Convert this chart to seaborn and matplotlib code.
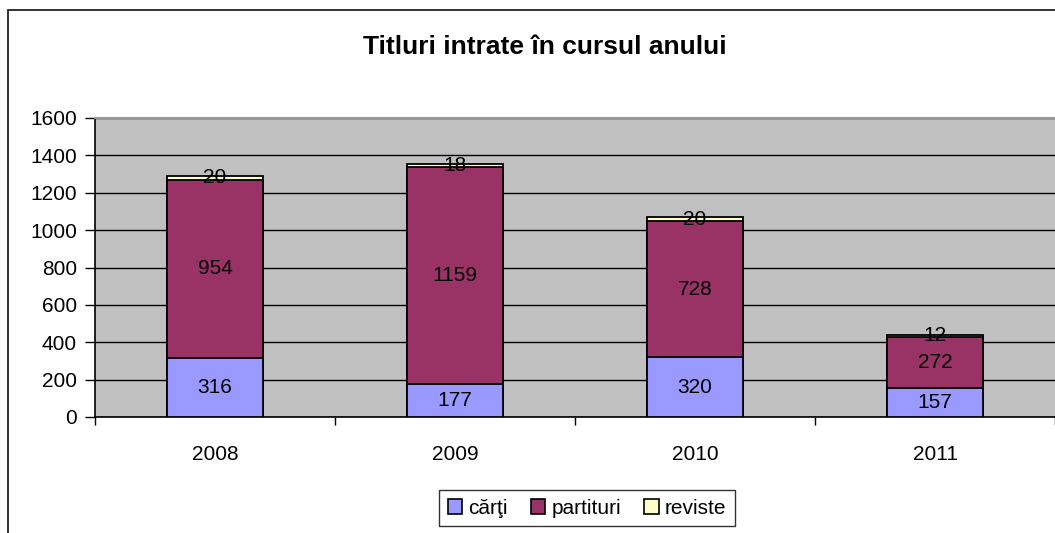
import matplotlib
matplotlib.use("Agg")
import matplotlib.pyplot as plt
import seaborn as sns
import pandas as pd
import numpy as np
from matplotlib.patches import Patch, Rectangle

years = ["2008", "2009", "2010", "2011"]
carti = [316, 177, 320, 157]
partituri = [954, 1159, 728, 272]
reviste = [20, 18, 20, 12]
series_names = ["cărţi", "partituri", "reviste"]
colors = ["#9999FF", "#993366", "#FFFFCC"]
title = "Titluri intrate în cursul anului"

sns.set_theme(style="white")
plt.rcParams["font.family"] = ["Liberation Sans", "DejaVu Sans"]
plt.rcParams["text.color"] = "black"
plt.rcParams["xtick.color"] = "black"
plt.rcParams["ytick.color"] = "black"
plt.rcParams["axes.labelcolor"] = "black"

df = pd.DataFrame({"an": years, "carti": carti, "partituri": partituri, "reviste": reviste})
df["c1"] = df["carti"]
df["c2"] = df["carti"] + df["partituri"]
df["c3"] = df["c2"] + df["reviste"]

fig = plt.figure(figsize=(10.55, 5.33), dpi=100)
fig.patch.set_facecolor("white")
ax = fig.add_axes([95/1055, (533-417)/533, (1055-95)/1055, (417-118)/533])
ax.set_facecolor("#C0C0C0")

for col, c in zip(["c3", "c2", "c1"], colors[::-1]):
    sns.barplot(data=df, x="an", y=col, color=c, saturation=1, width=0.4,
                edgecolor="black", linewidth=1.3, ax=ax, zorder=3)

ax.set_xlim(-0.5, 3.5)
ax.set_ylim(0, 1600)
ax.set_yticks(np.arange(0, 1601, 200))
ax.yaxis.grid(True, color="black", linewidth=1, zorder=1)
ax.set_axisbelow(True)
ax.set_xlabel("")
ax.set_ylabel("")

fs = 15
ax.tick_params(axis="y", which="major", left=True, length=7, width=1, color="black",
               labelsize=fs, pad=6, labelcolor="black")
ax.set_xticks(range(4))
ax.set_xticklabels(years, fontsize=fs, color="black")
ax.tick_params(axis="x", which="major", bottom=False, pad=14)
ax.set_xticks(np.arange(-0.5, 4.0, 1.0), minor=True)
ax.tick_params(axis="x", which="minor", bottom=True, length=6, width=1, color="black")

for s in ["left", "bottom"]:
    ax.spines[s].set_color("black")
    ax.spines[s].set_linewidth(1.2)
ax.spines["top"].set_color("#999999")
ax.spines["top"].set_linewidth(1.5)
ax.spines["right"].set_visible(False)

for i in range(len(years)):
    ax.text(i, carti[i] / 2, str(carti[i]), ha="center", va="center", fontsize=fs, color="black", zorder=5)
    ax.text(i, carti[i] + partituri[i] / 2, str(partituri[i]), ha="center", va="center", fontsize=fs, color="black", zorder=5)
    ax.text(i, carti[i] + partituri[i] + reviste[i] / 2, str(reviste[i]), ha="center", va="center", fontsize=fs, color="black", zorder=5)

fig.text(545/1055, 1 - 47/533, title, ha="center", va="center", fontsize=19, fontweight="bold", color="black")

handles = [Patch(facecolor=c, edgecolor="black", linewidth=1.2) for c in colors]
leg = fig.legend(handles, series_names, loc="center", bbox_to_anchor=(587/1055, 1 - 508/533),
                 ncol=3, fontsize=fs, frameon=True, fancybox=False, edgecolor="black",
                 handlelength=0.7, handleheight=0.7, handletextpad=0.3, columnspacing=1.1,
                 borderpad=0.4, borderaxespad=0)
leg.get_frame().set_linewidth(1.0)
for t in leg.get_texts():
    t.set_color("black")

fig.patches.append(Rectangle((8/1055, -0.1), 1.2, (1 - 10/533) + 0.1, transform=fig.transFigure,
                             fill=False, edgecolor="#222222", linewidth=1.3, zorder=0))

fig.savefig("out.png", dpi=100, facecolor="white")
